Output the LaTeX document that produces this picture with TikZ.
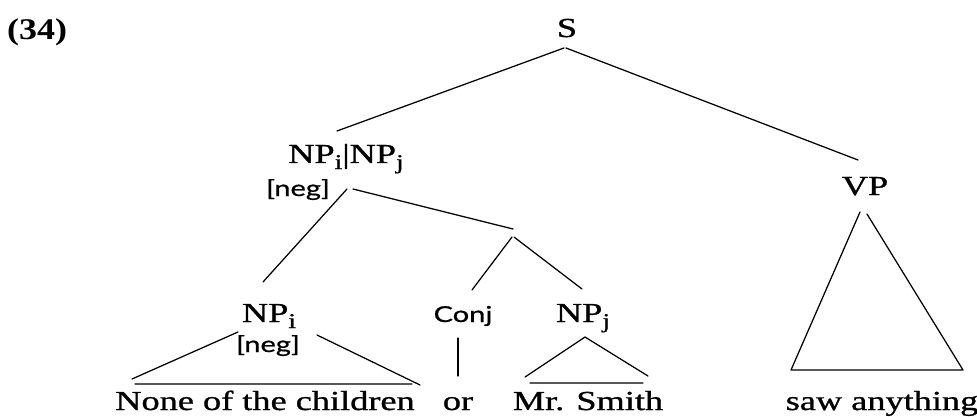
\documentclass[tikz,border=0pt]{standalone}
\usepackage{graphicx}
\usepackage{fontspec}
\setmainfont{Liberation Serif}
\newfontfamily\heavyserif{Liberation Serif}[FakeBold=0.8]
\newfontfamily\smallsans{Lato}[FakeBold=0.6]
\newcommand{\wx}[1]{\scalebox{1.32}[1]{#1}}
\newcommand{\sbx}[1]{\raisebox{-6pt}{\fontsize{21}{22}\selectfont #1}}
\begin{document}
\begin{tikzpicture}[x=1pt,y=-1pt,
  lbl/.style={inner sep=0pt, anchor=base, font=\heavyserif\fontsize{27.5}{30}\selectfont},
  sm/.style={inner sep=0pt, anchor=base, font=\smallsans\fontsize{22}{24}\selectfont},
  edge/.style={line width=1.25pt, line cap=round}]
\fill[white] (0,0) rectangle (977,417);
\useasboundingbox (0,0) rectangle (977,417);
% labels
\node[inner sep=0pt, anchor=base west, font=\bfseries\fontsize{30}{32}\selectfont] (ex) at (7,40) {\scalebox{1.2}[1]{(34)}};
\node[lbl] (S) at (567,37) {\wx{S}};
\node[lbl] (top) at (346,163) {\wx{NP\sbx{i}|NP\sbx{j}}};
\node[sm] (neg1) at (298,196) {\wx{[neg]}};
\node[lbl] (npi) at (269,322) {\wx{NP\sbx{i}}};
\node[sm] (neg2) at (268,352) {\wx{[neg]}};
\node[sm] (conj) at (463,322) {\wx{Conj}};
\node[lbl] (npj) at (583,322) {\wx{NP\sbx{j}}};
\node[lbl] (vp) at (865,195) {\wx{VP}};
\node[lbl] (w1) at (265,410) {\wx{None of the children}};
\node[lbl] (w2) at (458,410) {\wx{or}};
\node[lbl] (w3) at (588,410) {\wx{Mr. Smith}};
\node[lbl] (w4) at (882,410) {\wx{saw anything}};
% connector end points
\coordinate (sA) at (564,48);
\coordinate (sB) at (566,48);
\coordinate (sL) at (337,131);
\coordinate (sR) at (858,160);
\coordinate (tA) at (347,189);
\coordinate (tB) at (353,189);
\coordinate (tL) at (263,282);
\coordinate (tR) at (513,229);
\coordinate (mA) at (512,237);
\coordinate (mB) at (514,237);
\coordinate (mL) at (472,290);
\coordinate (mR) at (582,289);
\coordinate (cT) at (458,338);
\coordinate (cB) at (458,376);
\coordinate (iLt) at (238,332);
\coordinate (iLb) at (132,379);
\coordinate (iRt) at (317,335);
\coordinate (iRb) at (420,385);
\coordinate (iB1) at (135,384);
\coordinate (iB2) at (412,384);
\coordinate (jA) at (585,337);
\coordinate (jL) at (525,377);
\coordinate (jR) at (648,376);
\coordinate (jB1) at (530,383);
\coordinate (jB2) at (643,383);
\coordinate (vA) at (860,212);
\coordinate (vB) at (867,214);
\coordinate (vL) at (791,370);
\coordinate (vR) at (963,370);
% connectors
\draw[edge] (sL) -- (sA) (sB) -- (sR);
\draw[edge] (tL) -- (tA) (tB) -- (tR);
\draw[edge] (mL) -- (mA) (mB) -- (mR);
\draw[edge] (cT) -- (cB);
\draw[edge] (iLt) -- (iLb) (iRt) -- (iRb) (iB1) -- (iB2);
\draw[edge] (jL) -- (jA) -- (jR) (jB1) -- (jB2);
\draw[edge] (vL) -- (vA) (vB) -- (vR) (vL) -- (vR);
\end{tikzpicture}
\end{document}
